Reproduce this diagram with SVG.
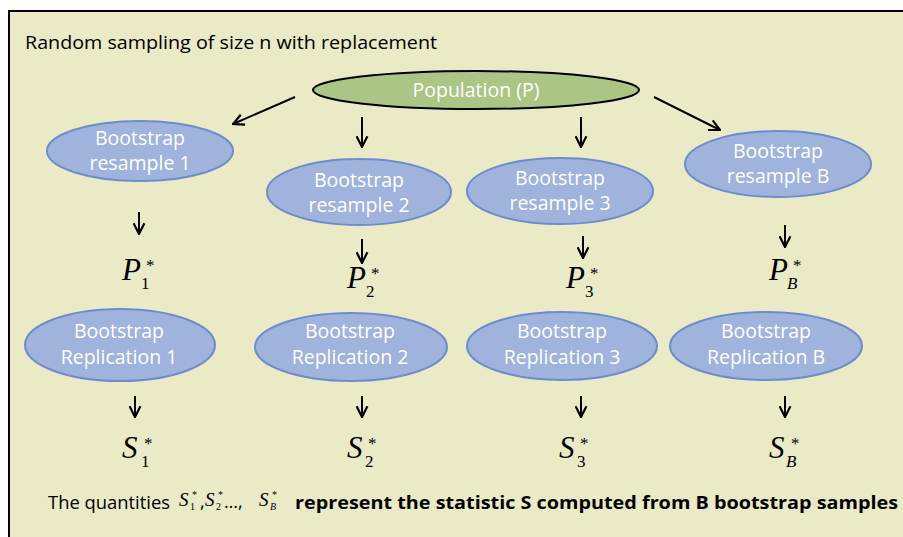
<svg xmlns="http://www.w3.org/2000/svg" width="903" height="537" viewBox="0 0 903 537">
<style>
.lbl{font-family:"Open Sans","Liberation Sans",sans-serif;fill:#fff;font-size:19.5px;text-anchor:middle}
.txt{font-family:"Open Sans","Liberation Sans",sans-serif;fill:#000;font-size:18px}
.blue{fill:#a0b3dc;stroke:#6c8ccc;stroke-width:2}
.math{font-family:"Liberation Serif","Times New Roman",serif;fill:#000;font-style:italic}
.sub{font-family:"Liberation Serif","Times New Roman",serif;fill:#000}
.ar{fill:none;stroke:#000;stroke-width:2}
</style>
<defs>
<marker id="ah" viewBox="0 0 12 12" refX="11" refY="6" markerWidth="13" markerHeight="13" markerUnits="userSpaceOnUse" orient="auto">
<path d="M1,1 L11,6 L1,11" fill="none" stroke="#000" stroke-width="2"/>
</marker>
</defs>
<rect x="0" y="0" width="903" height="537" fill="#fff"/>
<rect x="9" y="11" width="910" height="540" fill="#ebeac6" stroke="#000" stroke-width="2"/>
<text class="txt" x="25" y="49" textLength="412" lengthAdjust="spacingAndGlyphs">Random sampling of size n with replacement</text>

<g id="population">
<ellipse cx="476" cy="90" rx="163" ry="19" fill="#aac584" stroke="#000" stroke-width="2"/>
<text class="lbl" x="476" y="97">Population (P)</text>
</g>

<g id="connectors">
<line class="ar" x1="295" y1="97" x2="233" y2="124" marker-end="url(#ah)"/>
<line class="ar" x1="654" y1="97" x2="720" y2="130" marker-end="url(#ah)"/>
<line class="ar" x1="362" y1="117" x2="362" y2="147" marker-end="url(#ah)"/>
<line class="ar" x1="581" y1="117" x2="581" y2="147" marker-end="url(#ah)"/>
<line class="ar" x1="139" y1="212" x2="139" y2="234" marker-end="url(#ah)"/>
<line class="ar" x1="362" y1="239" x2="362" y2="263" marker-end="url(#ah)"/>
<line class="ar" x1="583" y1="236" x2="583" y2="258" marker-end="url(#ah)"/>
<line class="ar" x1="785" y1="225" x2="785" y2="247" marker-end="url(#ah)"/>
<line class="ar" x1="135" y1="396" x2="135" y2="417" marker-end="url(#ah)"/>
<line class="ar" x1="362" y1="396" x2="362" y2="417" marker-end="url(#ah)"/>
<line class="ar" x1="581" y1="396" x2="581" y2="417" marker-end="url(#ah)"/>
<line class="ar" x1="785" y1="396" x2="785" y2="417" marker-end="url(#ah)"/>
</g>

<g id="resample1">
<ellipse class="blue" cx="140" cy="151" rx="93" ry="30"/>
<text class="lbl" x="140" y="145">Bootstrap</text>
<text class="lbl" x="140" y="170">resample 1</text>
</g>
<g id="resample2">
<ellipse class="blue" cx="359" cy="192" rx="92" ry="33"/>
<text class="lbl" x="359" y="187">Bootstrap</text>
<text class="lbl" x="359" y="212">resample 2</text>
</g>
<g id="resample3">
<ellipse class="blue" cx="560" cy="191" rx="93" ry="33"/>
<text class="lbl" x="560" y="185">Bootstrap</text>
<text class="lbl" x="560" y="210">resample 3</text>
</g>
<g id="resampleB">
<ellipse class="blue" cx="778" cy="164" rx="93" ry="33"/>
<text class="lbl" x="778" y="158">Bootstrap</text>
<text class="lbl" x="778" y="183">resample B</text>
</g>

<g id="P1">
<text class="math" x="122" y="280" font-size="31">P</text>
<text class="sub" x="141" y="289" font-size="17">1</text>
<text class="sub" x="146" y="271" font-size="17">*</text>
</g>
<g id="P2">
<text class="math" x="347" y="288" font-size="31">P</text>
<text class="sub" x="366" y="297" font-size="17">2</text>
<text class="sub" x="371" y="279" font-size="17">*</text>
</g>
<g id="P3">
<text class="math" x="566" y="288" font-size="31">P</text>
<text class="sub" x="585" y="297" font-size="17">3</text>
<text class="sub" x="590" y="279" font-size="17">*</text>
</g>
<g id="PB">
<text class="math" x="769" y="280" font-size="31">P</text>
<text class="math" x="787" y="289" font-size="17">B</text>
<text class="sub" x="793" y="271" font-size="17">*</text>
</g>

<g id="replication1">
<ellipse class="blue" cx="120" cy="345" rx="95" ry="36"/>
<text class="lbl" x="119" y="338">Bootstrap</text>
<text class="lbl" x="119" y="364">Replication 1</text>
</g>
<g id="replication2">
<ellipse class="blue" cx="351" cy="347" rx="96" ry="34"/>
<text class="lbl" x="350" y="338">Bootstrap</text>
<text class="lbl" x="350" y="364">Replication 2</text>
</g>
<g id="replication3">
<ellipse class="blue" cx="562" cy="346" rx="95" ry="34"/>
<text class="lbl" x="562" y="338">Bootstrap</text>
<text class="lbl" x="562" y="364">Replication 3</text>
</g>
<g id="replicationB">
<ellipse class="blue" cx="766" cy="346" rx="96" ry="34"/>
<text class="lbl" x="766" y="338">Bootstrap</text>
<text class="lbl" x="766" y="364">Replication B</text>
</g>

<g id="S1">
<text class="math" x="122" y="458" font-size="31">S</text>
<text class="sub" x="141" y="467" font-size="17">1</text>
<text class="sub" x="144" y="449" font-size="17">*</text>
</g>
<g id="S2">
<text class="math" x="347" y="458" font-size="31">S</text>
<text class="sub" x="365" y="467" font-size="17">2</text>
<text class="sub" x="368" y="449" font-size="17">*</text>
</g>
<g id="S3">
<text class="math" x="559" y="458" font-size="31">S</text>
<text class="sub" x="577" y="467" font-size="17">3</text>
<text class="sub" x="580" y="449" font-size="17">*</text>
</g>
<g id="SB">
<text class="math" x="769" y="458" font-size="31">S</text>
<text class="math" x="786" y="467" font-size="17">B</text>
<text class="sub" x="791" y="449" font-size="17">*</text>
</g>

<g id="footer">
<text class="txt" x="48" y="509" textLength="122" lengthAdjust="spacingAndGlyphs">The quantities</text>
<text class="math" x="179" y="506" font-size="19">S</text>
<text class="sub" x="190" y="510" font-size="10">1</text>
<text class="sub" x="192" y="498" font-size="10">*</text>
<text class="txt" x="200" y="508">,</text>
<text class="math" x="205" y="506" font-size="19">S</text>
<text class="sub" x="216" y="510" font-size="10">2</text>
<text class="sub" x="218" y="498" font-size="10">*</text>
<text class="txt" x="224" y="508">…,</text>
<text class="math" x="259" y="506" font-size="19">S</text>
<text class="math" x="270" y="510" font-size="10">B</text>
<text class="sub" x="272" y="498" font-size="10">*</text>
<text class="txt" x="295" y="509" font-weight="bold" textLength="603" lengthAdjust="spacingAndGlyphs">represent the statistic S computed from B bootstrap samples</text>
</g>
</svg>
